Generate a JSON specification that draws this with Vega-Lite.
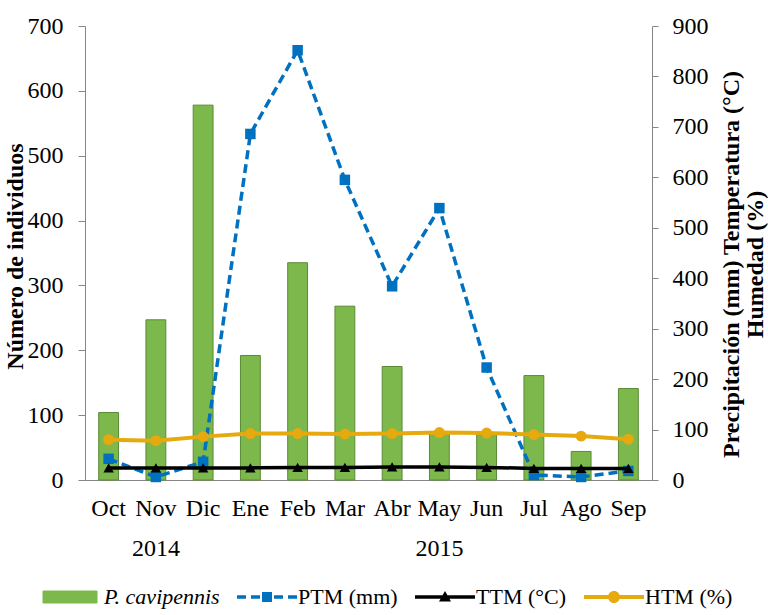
{
  "$schema": "https://vega.github.io/schema/vega-lite/v6.json",
  "autosize": "none",
  "width": 567,
  "height": 454,
  "padding": {"left": 85, "top": 26, "right": 116, "bottom": 135},
  "background": "white",
  "config": {
    "font": "Liberation Serif",
    "view": {"stroke": null},
    "axis": {
      "grid": false,
      "domainColor": "#868686",
      "tickColor": "#868686",
      "labelColor": "black",
      "titleColor": "black",
      "labelFont": "Liberation Serif",
      "titleFont": "Liberation Serif",
      "labelFontSize": 24,
      "titleFontSize": 24,
      "titleFontWeight": "bold"
    }
  },
  "data": {
    "values": [
      {"mes": "Oct", "ind": 104, "ptm": 42, "ttm": 24, "htm": 80},
      {"mes": "Nov", "ind": 247, "ptm": 6, "ttm": 24, "htm": 78},
      {"mes": "Dic", "ind": 578, "ptm": 36, "ttm": 24, "htm": 86},
      {"mes": "Ene", "ind": 192, "ptm": 686, "ttm": 24, "htm": 92},
      {"mes": "Feb", "ind": 335, "ptm": 852, "ttm": 25, "htm": 92},
      {"mes": "Mar", "ind": 268, "ptm": 595, "ttm": 25, "htm": 91},
      {"mes": "Abr", "ind": 175, "ptm": 384, "ttm": 26, "htm": 92},
      {"mes": "May", "ind": 72, "ptm": 539, "ttm": 26, "htm": 94},
      {"mes": "Jun", "ind": 70, "ptm": 223, "ttm": 25, "htm": 93},
      {"mes": "Jul", "ind": 161, "ptm": 10, "ttm": 23, "htm": 90},
      {"mes": "Ago", "ind": 44, "ptm": 6, "ttm": 23, "htm": 87},
      {"mes": "Sep", "ind": 141, "ptm": 18, "ttm": 23, "htm": 81}
    ]
  },
  "encoding": {
    "x": {
      "field": "mes",
      "type": "nominal",
      "sort": null,
      "scale": {"paddingInner": 0.58, "paddingOuter": 0.29},
      "axis": {
        "title": null,
        "ticks": false,
        "labelAngle": 0,
        "labelPadding": 16,
        "labelBaseline": "top",
        "labelLineHeight": 40,
        "labelOverlap": false,
        "labelExpr": "datum.value === 'Nov' ? ['Nov', '2014'] : datum.value === 'May' ? ['May', '2015'] : datum.value"
      }
    }
  },
  "layer": [
    {
      "mark": {"type": "bar", "stroke": "#5a8a35", "strokeWidth": 1},
      "encoding": {
        "y": {
          "field": "ind",
          "type": "quantitative",
          "scale": {"domain": [0, 700]},
          "axis": {
            "orient": "left",
            "values": [0, 100, 200, 300, 400, 500, 600, 700],
            "title": "Número de individuos",
            "tickSize": 7,
            "labelPadding": 15,
            "titleAngle": -90,
            "titleX": -70,
            "titleY": 230,
            "titleBaseline": "middle",
            "titleAlign": "center"
          }
        },
        "color": {
          "datum": "P. cavipennis",
          "type": "nominal",
          "scale": {
            "domain": ["P. cavipennis", "PTM (mm)", "TTM (°C)", "HTM (%)"],
            "range": ["#7db84c", "#0070C0", "#000000", "#E6A90E"]
          },
          "legend": {
            "orient": "none",
            "legendX": -43,
            "legendY": 560,
            "direction": "horizontal",
            "columns": 4,
            "title": null,
            "symbolSize": 400,
            "symbolStrokeWidth": 0,
            "labelFont": "Liberation Serif",
            "labelFontSize": 22,
            "labelColor": "black",
            "labelOffset": 40,
            "columnPadding": 16,
            "encoding": {
              "symbols": {
                "shape": {"value": {"expr": "datum.value === 'P. cavipennis' ? 'M-1,-0.6H4.4V0.6H-1Z' : datum.value === 'PTM (mm)' ? 'M-1,-0.18H-0.1V0.18H-1Z M0.4,-0.18H1.3V0.18H0.4Z M1.5,-0.5H2.5V0.5H1.5Z M2.7,-0.18H3.6V0.18H2.7Z M4.1,-0.18H5V0.18H4.1Z' : datum.value === 'TTM (°C)' ? 'M-1,-0.18H5V0.18H-1Z M1.4,0.45L2,-0.6L2.6,0.45Z' : 'M-1,-0.2H5V0.2H-1Z M1.4,0A0.6,0.6 0 1,1 2.6,0A0.6,0.6 0 1,1 1.4,0Z'"}},
                "stroke": {"value": {"expr": "datum.value === 'P. cavipennis' ? '#5a8a35' : 'transparent'"}},
                "strokeWidth": {"value": {"expr": "datum.value === 'P. cavipennis' ? 1 : 0"}}
              },
              "labels": {
                "fontStyle": {"value": {"expr": "datum.value === 'P. cavipennis' ? 'italic' : 'normal'"}}
              }
            }
          }
        }
      }
    },
    {
      "layer": [
        {
          "mark": {
            "type": "line",
            "strokeWidth": 3.5,
            "strokeDash": [9, 5],
            "point": {"shape": "square", "size": 110, "filled": true, "opacity": 1}
          },
          "encoding": {
            "y": {
              "field": "ptm",
              "type": "quantitative",
              "scale": {"domain": [0, 900]},
              "axis": {
                "orient": "right",
                "values": [0, 100, 200, 300, 400, 500, 600, 700, 800, 900],
                "title": ["Precipitación (mm) Temperatura (°C)", "Humedad (%)"],
                "tickSize": 6,
                "labelPadding": 14,
                "titleAngle": -90,
                "titleX": 79,
                "titleY": 238,
                "titleBaseline": "middle",
                "titleAlign": "center",
                "titleLineHeight": 24
              }
            },
            "color": {"datum": "PTM (mm)", "type": "nominal"}
          }
        },
        {
          "mark": {
            "type": "line",
            "strokeWidth": 3.5,
            "point": {"shape": "triangle-up", "size": 110, "filled": true, "opacity": 1}
          },
          "encoding": {
            "y": {
              "field": "ttm",
              "type": "quantitative",
              "scale": {"domain": [0, 900]},
              "axis": {
                "orient": "right",
                "values": [0, 100, 200, 300, 400, 500, 600, 700, 800, 900],
                "title": ["Precipitación (mm) Temperatura (°C)", "Humedad (%)"],
                "tickSize": 6,
                "labelPadding": 14,
                "titleAngle": -90,
                "titleX": 79,
                "titleY": 238,
                "titleBaseline": "middle",
                "titleAlign": "center",
                "titleLineHeight": 24
              }
            },
            "color": {"datum": "TTM (°C)", "type": "nominal"}
          }
        },
        {
          "mark": {
            "type": "line",
            "strokeWidth": 4,
            "point": {"shape": "circle", "size": 120, "filled": true, "opacity": 1}
          },
          "encoding": {
            "y": {
              "field": "htm",
              "type": "quantitative",
              "scale": {"domain": [0, 900]},
              "axis": {
                "orient": "right",
                "values": [0, 100, 200, 300, 400, 500, 600, 700, 800, 900],
                "title": ["Precipitación (mm) Temperatura (°C)", "Humedad (%)"],
                "tickSize": 6,
                "labelPadding": 14,
                "titleAngle": -90,
                "titleX": 79,
                "titleY": 238,
                "titleBaseline": "middle",
                "titleAlign": "center",
                "titleLineHeight": 24
              }
            },
            "color": {"datum": "HTM (%)", "type": "nominal"}
          }
        }
      ]
    }
  ],
  "resolve": {"scale": {"y": "independent"}}
}
